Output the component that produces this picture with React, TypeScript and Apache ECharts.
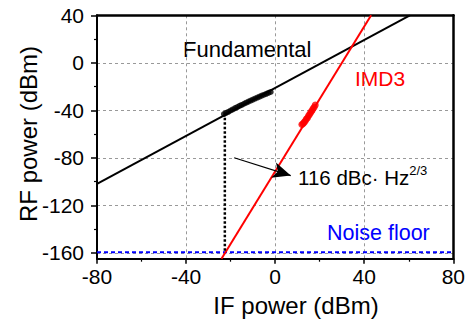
import React, { useEffect, useRef } from "react";
import * as echarts from "echarts";

const fundX = [-23, -22, -21, -20, -19, -18, -17, -16, -15, -14, -13, -12, -11, -10, -9, -8, -7, -6, -5, -4, -3, -2];
const fundY = [-43.2, -42.1, -41.3, -40.2, -39.3, -38.2, -37.3, -36.3, -35.5, -34.5, -33.6, -32.7, -31.8, -31.0, -30.1, -29.3, -28.5, -27.6, -26.9, -26.1, -25.3, -24.6];
const imdX = [12, 12.5, 13, 13.5, 14, 14.5, 15, 15.5, 16, 16.5, 17, 17.5, 18];
const imdY = [-52.0, -51.3, -50.2, -49.0, -47.4, -46.5, -44.6, -43.4, -41.6, -40.4, -38.8, -37.4, -35.5];

// Fitted lines
const fundFitX = [-80, 60.5];
const fundFitY = [-102, 40];
const imdFitX = [-24.1, 43.1];
const imdFitY = [-165, 40];
const noiseFloor = -159.5;
const noiseX = [-80, 80];
const dropX = -22.6;
const dropY = [-42.5, -160];

// Axis ticks
const xTicks = { min: -80, max: 80, interval: 40 };
const yTicks = { min: -160, max: 40, interval: 40 };
const yExtentMin = -165;

const FONT = "Liberation Sans, Arial, sans-serif";

export default function App() {
  const ref = useRef<HTMLDivElement>(null);
  useEffect(() => {
    document.body.style.margin = "0";
    const chart = echarts.init(ref.current!, null, { renderer: "svg" });
    const W = 468, H = 322;
    const left = 97, right = W - 454, top = 15.3, bottomA = H - 258.7;
    const hA = H - top - bottomA;
    const bottomB = bottomA + ((yTicks.min - yExtentMin) * hA) / (yTicks.max - yExtentMin);
    const grid = "#999";
    const zip = (xs: number[], ys: number[]) => xs.map((x, i) => [x, ys[i]]);

    chart.setOption({
      animation: false,
      grid: [
        { left, right, top, bottom: bottomA },
        { left, right, top, bottom: bottomB },
      ],
      xAxis: [
        {
          gridIndex: 0, type: "value", min: xTicks.min, max: xTicks.max, interval: xTicks.interval,
          axisLine: { show: true, onZero: false, lineStyle: { color: "#000", width: 2 } },
          axisTick: { show: true, inside: false, length: 5, lineStyle: { color: "#000", width: 1.5 } },
          minorTick: { show: true, splitNumber: 2, length: 3, lineStyle: { color: "#000", width: 1.2 } },
          axisLabel: { fontSize: 21, color: "#000", fontFamily: FONT, margin: 7 },
          splitLine: { show: true, showMinLine: false, showMaxLine: false, lineStyle: { color: grid, width: 1, type: [3, 3] } },
        },
        { gridIndex: 1, type: "value", min: xTicks.min, max: xTicks.max, show: false },
        {
          gridIndex: 0, type: "value", position: "top", min: xTicks.min, max: xTicks.max,
          axisLine: { show: true, onZero: false, lineStyle: { color: "#000", width: 2.5 } },
          axisTick: { show: false }, axisLabel: { show: false }, splitLine: { show: false },
        },
      ],
      yAxis: [
        {
          gridIndex: 0, type: "value", min: yExtentMin, max: yTicks.max,
          axisLine: { show: true, onZero: false, lineStyle: { color: "#000", width: 2 } },
          axisTick: { show: false }, axisLabel: { show: false }, splitLine: { show: false },
        },
        {
          gridIndex: 1, type: "value", min: yTicks.min, max: yTicks.max, interval: yTicks.interval,
          axisLine: { show: false, onZero: false },
          axisTick: { show: true, inside: false, length: 6, lineStyle: { color: "#000", width: 1.5 } },
          minorTick: { show: true, splitNumber: 2, length: 3, lineStyle: { color: "#000", width: 1.2 } },
          axisLabel: { fontSize: 21, color: "#000", fontFamily: FONT, margin: 13 },
          splitLine: { show: true, showMaxLine: false, lineStyle: { color: grid, width: 1, type: [3, 3] } },
        },
        {
          gridIndex: 0, type: "value", position: "right", min: yExtentMin, max: yTicks.max,
          axisLine: { show: true, onZero: false, lineStyle: { color: "#000", width: 2.5 } },
          axisTick: { show: false }, axisLabel: { show: false }, splitLine: { show: false },
        },
      ],
      series: [
        {
          type: "line", xAxisIndex: 0, yAxisIndex: 0, data: zip(noiseX, [noiseFloor, noiseFloor]),
          showSymbol: false, symbol: "none", lineStyle: { color: "#0000ff", width: 2, type: [4, 3] },
        },
        {
          type: "line", xAxisIndex: 0, yAxisIndex: 0, data: zip(fundFitX, fundFitY),
          showSymbol: false, symbol: "none", lineStyle: { color: "#000", width: 2 },
        },
        {
          type: "line", xAxisIndex: 0, yAxisIndex: 0, data: zip(imdFitX, imdFitY),
          showSymbol: false, symbol: "none", lineStyle: { color: "#ff0000", width: 2 },
        },
        {
          type: "line", xAxisIndex: 0, yAxisIndex: 0, data: zip([dropX, dropX], dropY),
          showSymbol: false, symbol: "none", lineStyle: { color: "#000", width: 2.5, type: [2.5, 2] },
          markLine: {
            silent: true, symbol: ["none", "arrow"], symbolSize: [12, 18],
            label: { show: false },
            lineStyle: { color: "#000", width: 1.2, type: "solid" },
            data: [[{ coord: [-18.4, -80.0] }, { coord: [7.0, -95.0] }]],
          },
        },
        {
          type: "scatter", xAxisIndex: 0, yAxisIndex: 0, data: zip(fundX, fundY),
          symbol: "circle", symbolSize: 6, itemStyle: { color: "#000" },
        },
        {
          type: "scatter", xAxisIndex: 0, yAxisIndex: 0, data: zip(imdX, imdY),
          symbol: "circle", symbolSize: 7, itemStyle: { color: "#ff0000" },
        },
      ],
      graphic: [
        { type: "text", x: 183, y: 49, style: { text: "Fundamental", fill: "#000", fontSize: 22, fontFamily: FONT, verticalAlign: "middle" } },
        { type: "text", x: 355, y: 78, style: { text: "IMD3", fill: "#ff0000", fontSize: 21, fontFamily: FONT, verticalAlign: "middle" } },
        { type: "text", x: 327, y: 233, style: { text: "Noise floor", fill: "#0000ff", fontSize: 21.5, fontFamily: FONT, verticalAlign: "middle" } },
        {
          type: "text", x: 298, y: 177,
          style: {
            text: "{m|116 dBc\u00b7 Hz}{s|2/3}", fill: "#000", fontFamily: FONT, verticalAlign: "middle",
            rich: {
              m: { fontSize: 20.5, lineHeight: 26, fontFamily: FONT, fill: "#000" },
              s: { fontSize: 13, lineHeight: 13, verticalAlign: "top", fontFamily: FONT, fill: "#000" },
            },
          },
        },
        { type: "text", x: 296, y: 305, style: { text: "IF power (dBm)", fill: "#000", fontSize: 24, fontFamily: FONT, align: "center", verticalAlign: "middle" } },
        { type: "text", x: 28, y: 134, rotation: Math.PI / 2, style: { text: "RF power (dBm)", fill: "#000", fontSize: 24, fontFamily: FONT, align: "center", verticalAlign: "middle" } },
      ],
    });
    return () => chart.dispose();
  }, []);
  return <div ref={ref} style={{ width: 468, height: 322 }} />;
}
